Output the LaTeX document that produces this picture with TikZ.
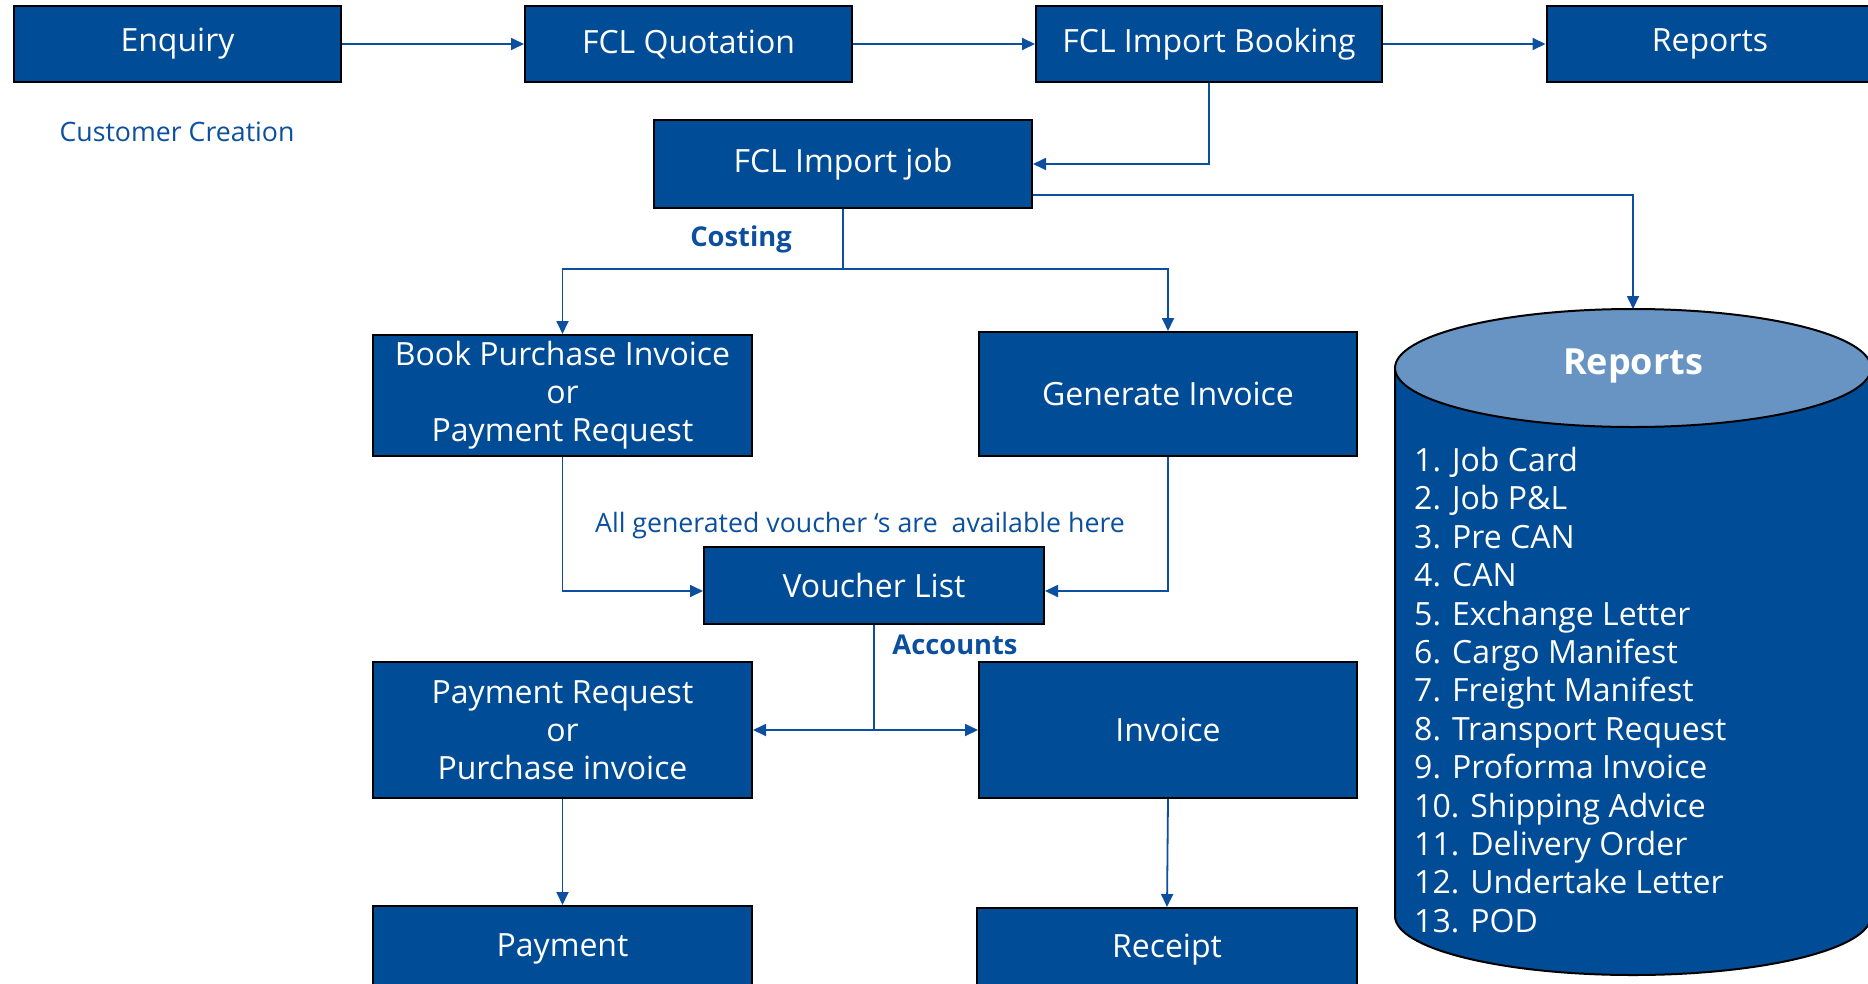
\documentclass[tikz,border=0pt]{standalone}
\usepackage{fontspec}
\setmainfont{Open Sans}
\usetikzlibrary{arrows.meta}
\definecolor{boxblue}{HTML}{004C97}
\definecolor{lineblue}{HTML}{0B4F9E}
\definecolor{topblue}{HTML}{6794C2}
\tikzset{
  box/.style={draw=black, line width=2pt, fill=boxblue, text=white, align=center, inner sep=0pt,
    font=\fontsize{32}{38}\selectfont},
  conn/.style={draw=lineblue, line width=1.8pt},
  arr/.style={conn, -{Triangle[length=13pt,width=12pt]}},
  darr/.style={conn, {Triangle[length=13pt,width=12pt]}-{Triangle[length=13pt,width=12pt]}},
  lbl/.style={text=lineblue, inner sep=0pt, font=\fontsize{26.7}{30}\selectfont},
  blbl/.style={text=lineblue, inner sep=0pt, font=\fontsize{27.3}{30}\selectfont\bfseries},
}
\begin{document}
\begin{tikzpicture}[x=1pt,y=-1pt]
\useasboundingbox (0,0) rectangle (1868,983);
% top row
\node[box, minimum width=327pt, minimum height=76pt] (enq) at (177.5,44) {Enquiry};
\node[box, minimum width=327pt, minimum height=76pt] (quo) at (688.5,44) {FCL Quotation};
\node[box, minimum width=346pt, minimum height=76pt] (book) at (1209,44) {FCL Import Booking};
\node[box, minimum width=327pt, minimum height=76pt] (rep) at (1710,44) {Reports};
\node[lbl] (cust) at (177,132) {Customer Creation};
% job
\node[box, minimum width=378pt, minimum height=88pt] (job) at (843,164) {FCL Import job};
\node[blbl] (cost) at (741,239) {Costing};
% costing boxes
\node[box, minimum width=379pt, minimum height=121pt] (bpi) at (562.5,395.5) {Book Purchase Invoice\\or\\Payment Request};
\node[box, minimum width=378pt, minimum height=124pt] (gen) at (1168,394) {Generate Invoice};
\node[lbl] (avail) at (860,526) {All generated voucher ‘s are\ \ available here};
\node[box, minimum width=340pt, minimum height=77pt] (vl) at (874,585.5) {Voucher List};
\node[blbl] (acc) at (955,645) {Accounts};
\node[box, minimum width=379pt, minimum height=136pt] (pr) at (562.5,730) {Payment Request\\or\\Purchase invoice};
\node[box, minimum width=378pt, minimum height=136pt] (inv) at (1168,730) {Invoice};
\node[box, minimum width=379pt, minimum height=86pt] (pay) at (562.5,949) {Payment};
\node[box, minimum width=380pt, minimum height=84pt] (rec) at (1167,950) {Receipt};
% cylinder
\path[fill=boxblue, draw=black, line width=2pt] (1395,368) -- (1395,916) arc[start angle=180, end angle=0, x radius=238, y radius=59] -- (1871,368) -- cycle;
\path[fill=topblue, draw=black, line width=2pt] (1633,368) ellipse[x radius=238, y radius=59];
\coordinate (cyltop) at (1633,309);
\node[text=white, inner sep=0pt, font=\fontsize{36}{40}\selectfont\bfseries] (creps) at (1633,366) {Reports};
\node[text=white, anchor=north west, align=left, inner sep=0pt, font=\fontsize{32}{38.4}\selectfont] (list) at (1414,447)
{1. Job Card\\2. Job P\&L\\3. Pre CAN\\4. CAN\\5. Exchange Letter\\6. Cargo Manifest\\7. Freight Manifest\\8. Transport Request\\9. Proforma Invoice\\10. Shipping Advice\\11. Delivery Order\\12. Undertake Letter\\13. POD};
% connectors
\draw[arr] (enq) -- (quo);
\draw[arr] (quo) -- (book);
\draw[arr] (book) -- (rep);
\draw[arr] (book.south) |- (job.east);
\coordinate (jr) at (job.east |- 0,195);
\draw[arr] (jr) -| (cyltop);
\coordinate (split) at (843,269);
\draw[conn] (job.south) -- (split);
\draw[arr] (split) -| (bpi.north);
\draw[arr] (split) -| (gen.north);
\draw[arr] (bpi.south) |- (vl.west |- 0,591);
\draw[arr] (gen.south) |- (vl.east |- 0,591);
\coordinate (acsplit) at (874,730);
\draw[conn] (vl.south) -- (acsplit);
\draw[darr] (pr.east) -- (inv.west);
\draw[arr] (pr.south) -- (pay.north);
\draw[arr] (inv.south) -- (rec.north);
\end{tikzpicture}
\end{document}
